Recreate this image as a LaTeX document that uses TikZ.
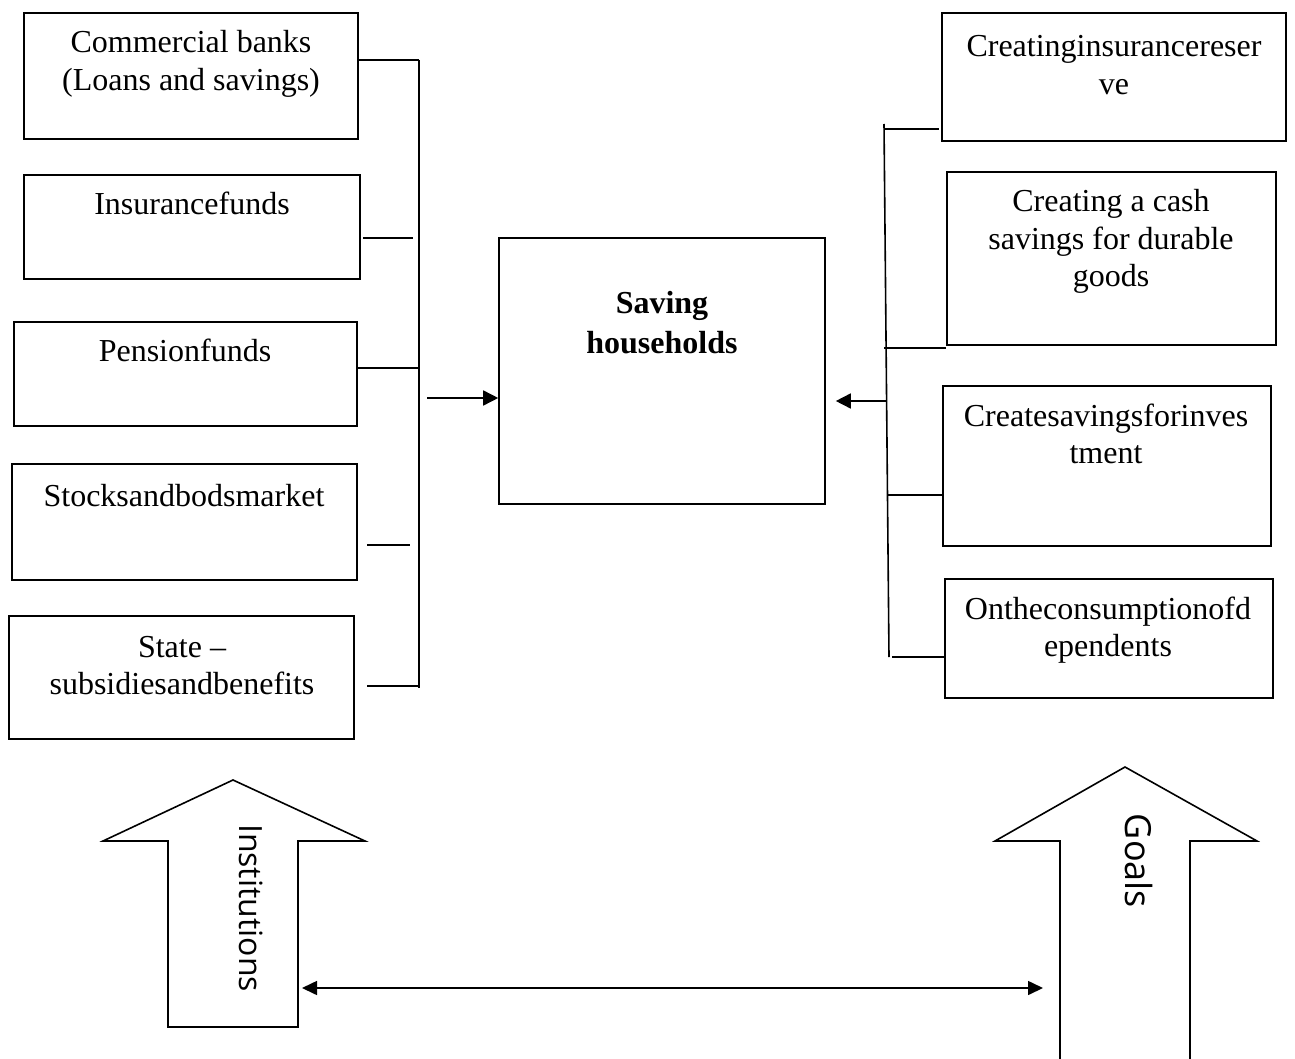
\documentclass[tikz,border=0pt]{standalone}
\usepackage{fontspec}
\setmainfont{Liberation Serif}
\newfontfamily\osans{Open Sans}
\usetikzlibrary{arrows.meta,fit}
\renewcommand\arraystretch{1}
\begin{document}
\begin{tikzpicture}[x=1pt,y=-1pt,
  box/.style={draw, line width=1.6pt, rectangle, inner sep=0pt},
  txt/.style={font=\fontsize{32}{37.5}\selectfont, inner sep=0pt, anchor=base},
  conn/.style={line width=1.6pt},
  arr/.style={conn, -{Triangle[length=15pt,width=15pt]}},
  darr/.style={conn, {Triangle[length=15pt,width=14pt]}-{Triangle[length=15pt,width=14pt]}},
  blockarrow/.style={draw, line width=1.6pt, line join=miter},
  side/.style={font=\osans\fontsize{#1}{#1}\selectfont, inner sep=0pt, rotate=-90}]
\useasboundingbox (0,0) rectangle (1295,1059);
\newcommand\tl[1]{\begin{tabular}[t]{@{}c@{}}#1\end{tabular}}
% left boxes
\node[box, fit={(24,13) (358,139)}] (L1) {};
\node[box, fit={(24,175) (360,279)}] (L2) {};
\node[box, fit={(14,322) (357,426)}] (L3) {};
\node[box, fit={(12,464) (357,580)}] (L4) {};
\node[box, fit={(9,616) (354,739)}] (L5) {};
\node[txt] (L1t) at (191,53) {\tl{Commercial banks\\(Loans and savings)}};
\node[txt] (L2t) at (192,215) {\tl{Insurancefunds}};
\node[txt] (L3t) at (185,361) {\tl{Pensionfunds}};
\node[txt] (L4t) at (184,506) {\tl{Stocksandbodsmarket}};
\node[txt] (L5t) at (182,657) {\tl{State --\\subsidiesandbenefits}};
% center
\node[box, fit={(499,238) (825,504)}] (C) {};
\node[txt, font=\bfseries\fontsize{32}{40}\selectfont] (Ct) at (662,313) {\tl{Saving\\households}};
% right boxes
\node[box, fit={(942,13) (1286,141)}] (R1) {};
\node[box, fit={(947,172) (1276,345)}] (R2) {};
\node[box, fit={(943,386) (1271,546)}] (R3) {};
\node[box, fit={(945,579) (1273,698)}] (R4) {};
\node[txt] (R1t) at (1114,57) {\tl{Creatinginsurancereser\\ve}};
\node[txt] (R2t) at (1111,212) {\tl{Creating a cash\\savings for durable\\goods}};
\node[txt] (R3t) at (1106,426) {\tl{Createsavingsforinves\\tment}};
\node[txt] (R4t) at (1108,619) {\tl{Ontheconsumptionofd\\ependents}};
% left bracket
\coordinate (lbt) at (419,60);
\coordinate (lbb) at (419,688);
\coordinate (l2s) at (363,238); \coordinate (l2e) at (413,238);
\coordinate (l3e) at (419,368);
\coordinate (l4s) at (367,545); \coordinate (l4e) at (410,545);
\coordinate (l5s) at (367,686); \coordinate (l5e) at (419,686);
\coordinate (la) at (427,398);
\draw[conn] (lbt) -- (lbb);
\draw[conn] (L1.east |- lbt) -- (lbt);
\draw[conn] (l2s) -- (l2e);
\draw[conn] (L3.east |- l3e) -- (l3e);
\draw[conn] (l4s) -- (l4e);
\draw[conn] (l5s) -- (l5e);
\draw[arr] (la) -- (C.west |- la);
% right bracket
\coordinate (rbt) at (884,124);
\coordinate (rbb) at (889,657);
\coordinate (r1s) at (884,129); \coordinate (r1e) at (939,129);
\coordinate (r2s) at (884,348);
\coordinate (r3s) at (888,495);
\coordinate (r4s) at (892,657);
\coordinate (ra) at (886,401);
\draw[conn] (rbt) -- (rbb);
\draw[conn] (r1s) -- (r1e);
\draw[conn] (r2s) -- (R2.west |- r2s);
\draw[conn] (r3s) -- (R3.west |- r3s);
\draw[conn] (r4s) -- ([xshift=2pt]R4.west |- r4s);
\draw[arr] (ra) -- ([xshift=10pt]C.east |- ra);
% block arrows
\draw[blockarrow] (168,1027) -- (168,841) -- (103,841) -- (233,780) -- (365,841) -- (298,841) -- (298,1027) -- cycle;
\draw[blockarrow] (1060,1062) -- (1060,841) -- (995,841) -- (1125,767) -- (1257,841) -- (1190,841) -- (1190,1062);
\node[side=32] (inst) at (251,908) {Institutions};
\node[side=36] (goals) at (1139,861) {Goals};
\coordinate (dl) at (302,988);
\coordinate (dr) at (1043,988);
\draw[darr] (dl) -- (dr);
\end{tikzpicture}
\end{document}
